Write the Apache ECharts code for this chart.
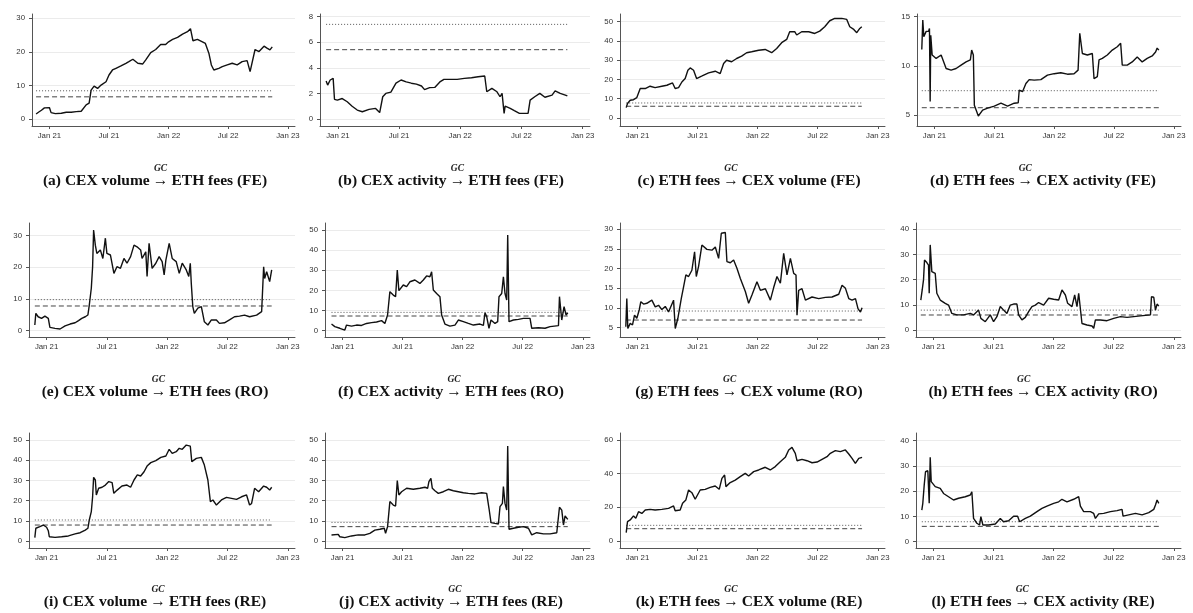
<!DOCTYPE html>
<html><head><meta charset="utf-8">
<script src="https://cdn.jsdelivr.net/npm/echarts@6/dist/echarts.min.js"></script>
<style>html,body{margin:0;padding:0;background:#fff}#c{width:1193px;height:613px}</style>
</head><body><div id="c"></div>
<script>
// x = months since 1 Jan 2021
const xTickValues = [0, 6, 12, 18, 24];
const xTickLabels = ['Jan 21', 'Jul 21', 'Jan 22', 'Jul 22', 'Jan 23'];

const volToFeesFE = [[-1.34,1.5],[-1.1,2.0],[-0.8,2.6],[-0.5,3.3],[-0.3,3.7],[0.0,3.4],[0.17,1.9],[0.6,1.6],[1.2,1.7],[1.7,2.0],[2.2,2.0],[2.7,2.2],[3.2,2.3],[3.3,1.9],[3.7,4.2],[4.0,4.7],[4.2,8.6],[4.5,9.8],[4.85,9.1],[5.2,10.1],[5.7,11.1],[6.0,13.1],[6.35,14.6],[6.7,15.1],[7.2,15.8],[7.7,16.6],[8.0,17.1],[8.4,17.8],[8.9,16.6],[9.4,16.4],[9.7,17.6],[10.2,19.8],[10.7,20.7],[11.2,22.2],[11.7,22.2],[12.0,23.0],[12.4,23.7],[12.9,24.3],[13.4,25.3],[13.9,26.0],[14.2,26.9],[14.45,23.3],[14.9,23.7],[15.4,23.0],[15.7,22.5],[16.05,19.6],[16.3,16.1],[16.55,14.6],[17.05,15.1],[17.4,15.6],[17.9,16.1],[18.4,16.6],[18.9,16.1],[19.4,17.1],[19.9,17.4],[20.2,14.1],[20.4,14.6],[20.7,20.7],[21.1,20.1],[21.6,21.7],[21.9,21.1],[22.2,20.6],[22.43,21.5]];
const actToFeesFE = [[-1.15,2.97],[-1.0,2.65],[-0.75,3.05],[-0.46,3.18],[-0.33,1.54],[-0.05,1.48],[0.43,1.6],[0.92,1.35],[1.4,1.0],[1.9,0.7],[2.4,0.57],[3.06,0.75],[3.7,0.83],[4.1,0.5],[4.4,1.74],[4.7,2.0],[5.2,2.1],[5.7,2.8],[6.2,3.05],[6.7,2.9],[7.2,2.8],[7.7,2.73],[8.2,2.58],[8.5,2.3],[9.0,2.45],[9.5,2.47],[10.0,2.9],[10.4,3.1],[11.1,3.1],[11.7,3.1],[12.4,3.18],[13.1,3.23],[13.75,3.3],[14.4,3.36],[14.6,2.13],[15.1,2.4],[15.6,2.13],[15.9,1.74],[16.1,2.0],[16.3,0.44],[16.4,1.0],[16.9,0.83],[17.3,0.65],[17.8,0.44],[18.65,0.44],[18.85,1.48],[19.3,1.74],[19.8,2.0],[20.3,1.7],[21.0,1.87],[21.3,2.2],[21.8,2.0],[22.3,1.87],[22.5,1.8]];
const feesToVolFE = [[-1.13,5.4],[-1.0,7.5],[-0.73,9.2],[-0.4,9.5],[-0.07,10.6],[0.27,15.3],[0.77,15.3],[1.26,16.5],[1.76,15.8],[2.43,16.5],[2.93,17.0],[3.5,18.2],[3.76,15.3],[4.1,15.8],[4.43,18.7],[4.76,20.5],[5.03,24.8],[5.26,26.0],[5.6,24.8],[5.9,20.5],[6.4,21.7],[7.1,23.4],[7.76,24.3],[8.26,23.1],[8.6,28.3],[8.9,30.0],[9.4,29.2],[9.9,30.9],[10.4,32.1],[10.9,33.9],[11.4,34.4],[12.1,35.2],[12.75,35.6],[13.4,33.9],[13.9,36.1],[14.4,39.1],[14.9,40.8],[15.2,44.8],[15.7,44.8],[15.9,43.1],[16.4,44.8],[17.1,44.8],[17.7,43.9],[18.2,45.1],[18.7,47.4],[19.2,50.5],[19.7,51.7],[20.4,51.7],[20.9,51.2],[21.2,47.4],[21.6,46.0],[21.9,44.3],[22.2,46.5],[22.4,47.4]];
const feesToActFE = [[-1.27,11.66],[-1.17,14.66],[-1.07,12.97],[-0.83,13.5],[-0.6,13.5],[-0.5,13.8],[-0.43,6.36],[-0.37,13.1],[-0.23,11.1],[0.17,10.75],[0.67,11.1],[1.17,9.73],[1.67,9.56],[2.17,9.73],[2.67,10.07],[3.17,10.4],[3.6,10.6],[3.73,11.6],[3.9,11.1],[4.0,6.0],[4.17,5.85],[4.4,4.9],[4.83,5.5],[5.33,5.7],[6.0,5.9],[6.67,6.2],[7.33,5.9],[8.0,6.2],[8.4,6.25],[8.5,7.54],[8.83,7.37],[9.17,8.2],[9.5,8.6],[10.0,8.54],[10.67,8.6],[11.33,9.05],[12.0,9.2],[12.67,9.3],[13.33,9.15],[14.0,9.2],[14.4,9.56],[14.57,13.3],[14.83,11.25],[15.33,11.1],[15.83,11.25],[16.0,8.7],[16.33,8.9],[16.5,10.6],[16.83,10.75],[17.33,11.1],[17.83,11.6],[18.33,11.94],[18.67,12.3],[18.83,10.07],[19.33,10.07],[19.83,10.4],[20.33,10.9],[20.83,10.4],[21.33,10.75],[21.83,11.0],[22.17,11.4],[22.33,11.8],[22.5,11.6]];
const volToFeesRO = [[-1.17,1.8],[-1.07,5.5],[-0.84,4.4],[-0.5,3.9],[-0.17,4.6],[0.17,3.9],[0.33,1.05],[0.84,0.74],[1.34,0.53],[1.84,1.5],[2.34,2.1],[2.84,2.5],[3.18,3.2],[3.5,3.9],[3.85,4.4],[4.11,4.95],[4.25,8.1],[4.45,13.4],[4.58,20.2],[4.68,31.8],[4.85,27],[5.0,24.4],[5.35,25.5],[5.6,22.8],[5.85,29.2],[6.0,24.4],[6.35,23.9],[6.7,18.1],[7.0,20.2],[7.35,19.7],[7.7,22.8],[8.0,21.3],[8.36,23.4],[8.7,27],[9.0,26.5],[9.36,25.5],[9.5,22.8],[9.87,24.9],[10.0,17.1],[10.2,27.6],[10.5,19.7],[10.87,21.3],[11.2,23.4],[11.5,21.8],[11.7,17.6],[11.87,22.3],[12.2,27.6],[12.5,22.8],[12.9,21.8],[13.2,18.1],[13.5,21.3],[13.9,19.2],[14.15,17.1],[14.3,21.3],[14.4,14.9],[14.55,7.6],[14.7,5.5],[15.05,7.1],[15.4,7.6],[15.7,2.8],[16.05,1.8],[16.4,3.4],[16.9,3.4],[17.2,2.3],[17.7,2.5],[18.2,3.4],[18.7,4.4],[19.2,4.6],[19.7,4.9],[20.2,4.4],[20.9,4.9],[21.4,6.0],[21.6,20.2],[21.7,16.5],[21.9,18.6],[22.2,15.5],[22.4,19.2]];
const actToFeesRO = [[-1.1,3.3],[-0.77,2.0],[-0.27,1.2],[0.23,0.3],[0.4,2.8],[0.9,2.3],[1.4,2.8],[1.9,2.6],[2.4,3.6],[2.9,4.0],[3.4,4.3],[3.9,5.0],[4.23,3.6],[4.5,7.8],[4.73,19.4],[5.07,17.7],[5.3,16.9],[5.47,30.1],[5.63,19.9],[6.07,22.7],[6.4,21.9],[6.73,24.3],[7.23,25.2],[7.73,23.5],[8.07,25.2],[8.4,27.2],[8.73,26.8],[8.9,29.3],[9.07,20.2],[9.4,18.5],[9.73,16.9],[9.9,7.8],[10.23,3.3],[10.73,2.3],[11.23,2.8],[11.57,5.3],[12.07,4.5],[12.57,3.6],[13.07,2.8],[13.73,3.3],[14.07,2.6],[14.23,8.9],[14.4,7.0],[14.63,1.2],[14.83,5.3],[15.23,3.6],[15.5,4.5],[15.63,16.9],[15.9,18.5],[16.07,26.8],[16.23,18.5],[16.4,15.2],[16.5,47.5],[16.63,4.5],[17.07,5.3],[17.57,5.6],[18.07,6.1],[18.73,6.1],[18.9,1.2],[19.57,1.5],[20.23,1.2],[20.73,2.0],[21.57,2.5],[21.67,16.9],[21.9,5.3],[22.13,11.9],[22.33,7.8],[22.5,8.9]];
const feesToVolRO = [[-1.17,5.25],[-1.07,12.4],[-0.97,4.8],[-0.73,6.1],[-0.5,5.7],[-0.3,8.2],[-0.07,7.4],[0.17,9.5],[0.33,11.6],[0.6,11.0],[0.93,11.2],[1.43,12.0],[1.77,10.3],[2.1,10.7],[2.43,9.6],[2.77,10.4],[3.1,9.0],[3.6,12.0],[3.77,4.8],[4.03,7.4],[4.37,12.4],[4.6,15.4],[4.83,18.4],[5.1,18.0],[5.43,19.6],[5.7,24.3],[5.87,18.0],[6.1,20.6],[6.43,26.0],[6.93,24.9],[7.43,24.7],[7.77,25.5],[8.1,22.6],[8.37,29.0],[8.77,29.2],[8.93,21.8],[9.27,21.5],[9.6,22.2],[9.93,20.1],[10.27,17.5],[10.77,14.2],[11.1,11.2],[11.43,13.3],[11.93,16.7],[12.27,14.5],[12.77,14.9],[13.27,12.0],[13.6,15.2],[13.93,18.0],[14.27,16.3],[14.6,23.9],[14.93,18.4],[15.27,22.6],[15.6,18.8],[15.83,18.4],[15.93,8.2],[16.1,14.5],[16.43,14.9],[16.77,12.0],[17.43,12.8],[18.1,12.4],[18.77,12.7],[19.43,12.8],[20.1,13.5],[20.43,15.8],[20.77,15.0],[21.1,12.4],[21.43,12.0],[21.77,12.4],[22.03,9.8],[22.27,9.0],[22.43,10.1]];
const feesToActRO = [[-1.27,11.9],[-1.13,15.9],[-1.0,19.9],[-0.9,27.8],[-0.67,26.8],[-0.5,25.8],[-0.43,14.6],[-0.33,33.8],[-0.17,23.2],[0.17,22.5],[0.33,14.6],[0.67,11.9],[1.17,10.6],[1.5,9.9],[1.83,6.6],[2.33,6.0],[3.0,6.0],[3.67,6.6],[4.0,6.0],[4.5,7.9],[4.73,4.6],[5.17,3.3],[5.67,6.0],[6.0,3.3],[6.33,5.3],[6.67,9.3],[7.0,7.9],[7.33,6.6],[7.67,9.9],[8.0,10.3],[8.33,10.3],[8.5,6.0],[8.83,4.0],[9.17,5.0],[9.5,7.3],[9.83,9.3],[10.17,9.9],[10.5,10.9],[11.0,9.9],[11.5,12.6],[12.0,12.2],[12.5,11.9],[12.83,15.9],[13.17,13.9],[13.4,10.6],[13.83,9.3],[14.1,13.9],[14.33,9.3],[14.5,14.6],[14.83,2.6],[15.33,2.0],[15.83,1.6],[16.0,0.7],[16.17,4.0],[16.67,4.0],[17.33,3.7],[18.0,4.6],[18.67,5.3],[19.33,5.0],[20.0,5.3],[20.67,5.6],[21.67,6.0],[21.77,13.2],[22.0,13.0],[22.17,7.9],[22.33,10.3],[22.5,9.5]];
const volToFeesRE = [[-1.17,1.65],[-1.07,6.3],[-0.67,7.1],[-0.33,7.9],[0.0,6.8],[0.17,5.1],[0.27,2.1],[0.84,1.8],[1.5,2.1],[2.17,2.5],[2.84,3.5],[3.34,4.1],[3.85,5.4],[4.11,6.3],[4.25,10.4],[4.45,14.5],[4.58,21.9],[4.68,31.5],[4.85,30.2],[4.95,22.8],[5.18,26.1],[5.52,26.6],[5.85,27.7],[6.19,29.4],[6.52,28.9],[6.69,23.6],[7.02,25.2],[7.5,27.2],[8.0,27.7],[8.36,26.6],[8.7,30.2],[9.03,32.7],[9.36,32.2],[9.7,34.3],[10.0,37.1],[10.37,38.8],[10.87,39.8],[11.37,41.4],[11.87,42.1],[12.2,45.4],[12.5,43.4],[12.9,44.2],[13.2,45.9],[13.5,45.4],[13.9,47.5],[14.3,47.0],[14.45,39.3],[14.9,40.9],[15.4,41.4],[15.7,37.6],[16.05,30.2],[16.3,19.5],[16.55,20.3],[16.9,17.8],[17.4,20.3],[17.9,21.6],[18.4,21.1],[18.9,20.6],[19.4,21.9],[19.9,22.8],[20.2,17.8],[20.4,18.6],[20.7,26.1],[21.1,24.4],[21.6,27.2],[21.9,26.6],[22.2,25.2],[22.4,26.6]];
const actToFeesRE = [[-1.1,3.0],[-0.43,3.3],[-0.27,2.1],[0.23,1.65],[0.9,2.5],[1.57,3.0],[2.23,3.0],[2.73,3.8],[3.23,5.4],[3.73,5.8],[4.17,6.3],[4.3,3.8],[4.5,7.1],[4.73,19.5],[5.07,17.8],[5.3,17.3],[5.47,29.9],[5.63,22.8],[5.9,24.4],[6.4,26.1],[7.07,25.6],[7.73,26.1],[8.23,26.6],[8.5,26.1],[8.63,29.4],[8.83,31.0],[8.97,26.1],[9.23,24.9],[9.57,23.6],[10.07,24.4],[10.57,25.6],[11.07,24.9],[11.57,24.4],[12.07,23.9],[12.57,23.6],[13.23,23.3],[13.9,23.9],[14.4,23.6],[14.63,16.2],[14.83,9.1],[15.23,8.7],[15.57,8.4],[15.73,17.0],[15.97,18.6],[16.07,26.9],[16.23,18.6],[16.4,15.3],[16.5,47.0],[16.63,5.8],[17.07,6.3],[17.57,6.8],[18.07,7.1],[18.57,6.3],[18.9,3.0],[19.4,4.1],[20.07,3.5],[20.73,3.5],[21.4,4.1],[21.57,4.1],[21.67,16.7],[21.9,15.3],[22.07,7.9],[22.23,12.4],[22.5,10.7]];
const feesToVolRE = [[-1.13,5.0],[-1.0,11.5],[-0.73,12.5],[-0.4,14.9],[-0.17,13.5],[0.1,17.4],[0.43,16.4],[0.77,18.4],[1.26,18.8],[1.76,18.4],[2.43,18.8],[3.1,19.4],[3.6,20.8],[3.76,18.0],[4.26,18.4],[4.5,22.4],[4.83,24.4],[5.1,30.3],[5.43,28.7],[5.76,24.8],[5.93,24.4],[6.26,30.3],[6.76,30.7],[7.26,31.9],[7.76,32.7],[8.16,30.7],[8.43,37.2],[8.7,39.2],[8.83,32.3],[9.26,34.7],[9.76,36.2],[10.26,38.2],[10.76,40.2],[11.1,38.6],[11.6,41.2],[12.1,42.2],[12.76,43.8],[13.26,42.2],[13.76,44.2],[14.26,47.1],[14.76,49.7],[15.1,54.1],[15.43,55.6],[15.76,52.1],[15.93,47.7],[16.43,48.5],[16.93,47.7],[17.43,46.5],[17.93,46.9],[18.43,48.5],[18.93,50.1],[19.26,52.1],[19.76,53.7],[20.26,53.1],[20.76,54.1],[21.1,51.7],[21.43,49.1],[21.76,46.1],[22.1,49.1],[22.43,49.7]];
const feesToActRE = [[-1.17,12.5],[-1.07,15.2],[-0.93,22.4],[-0.8,27.7],[-0.57,28.1],[-0.43,15.2],[-0.33,33.4],[-0.23,23.8],[0.17,21.8],[0.67,21.1],[1.0,19.1],[1.5,17.8],[2.0,16.5],[2.5,17.2],[3.17,17.8],[3.67,18.5],[3.83,19.8],[4.0,9.2],[4.33,7.3],[4.6,6.6],[4.73,9.9],[4.93,6.6],[5.5,6.6],[6.17,7.0],[6.67,9.2],[7.0,7.9],[7.5,8.3],[8.0,10.1],[8.4,10.1],[8.6,7.9],[9.17,9.2],[9.67,10.1],[10.33,11.9],[10.83,13.2],[11.33,14.1],[12.0,15.2],[12.5,15.8],[12.83,16.8],[13.33,15.8],[14.0,16.8],[14.5,17.8],[14.67,14.1],[15.0,11.9],[15.67,11.9],[16.0,11.2],[16.17,9.2],[16.5,11.0],[17.0,11.2],[17.67,11.9],[18.33,12.3],[18.83,12.8],[18.93,10.1],[19.5,10.6],[20.17,11.2],[20.83,10.6],[21.5,11.5],[22.0,12.8],[22.17,14.5],[22.33,16.5],[22.5,15.2]];

const panelSeries = [volToFeesFE, actToFeesFE, feesToVolFE, feesToActFE, volToFeesRO, actToFeesRO, feesToVolRO, feesToActRO, volToFeesRE, actToFeesRE, feesToVolRE, feesToActRE];
const panelLetters = ['a','b','c','d','e','f','g','h','i','j','k','l'];
const causeNames = ['CEX volume','CEX activity','ETH fees','ETH fees'];
const effectNames = ['ETH fees','ETH fees','CEX volume','CEX activity'];
const estimators = ['FE','RO','RE'];
const critDotted = [8.4, 7.4, 7.8, 7.47, 9.8, 9.1, 9.24, 7.9, 10.4, 9.2, 9.3, 7.9];
const critDashed = [6.6, 5.42, 6.1, 5.74, 7.8, 7.3, 6.95, 5.96, 7.9, 7.1, 7.3, 6.07];
const yTickSets = [[0,10,20,30],[0,2,4,6,8],[0,10,20,30,40,50],[5,10,15],[0,10,20,30],[0,10,20,30,40,50],[5,10,15,20,25,30],[0,10,20,30,40],[0,10,20,30,40,50],[0,10,20,30,40,50],[0,20,40,60],[0,10,20,30,40]];

// layout (axis ranges and grid placement)
const yRanges = [[-2.09,31.28],[-0.547,8.21],[-4.15,54.0],[3.88,15.27],[-1.99,34.0],[-3.13,53.5],[2.64,31.6],[-2.78,42.5],[-3.47,53.47],[-3.47,53.47],[-4.16,64.16],[-2.5,43.05]];
const gridBoxes = [
  [32,14,263,112],[320,14,270,112],[620,14,265,112],[917,14,264,112],
  [29,223,266,114],[325,223,265,114],[620,223,265,114],[916,223,265,114],
  [29,433,266,115],[325,433,265,115],[620,433,265,115],[916,433,265,115]
];
const titleX = [155, 451, 749, 1043];
const titleY = [180.5, 391.5, 601.5];

const AX = '#555', LBL = '#333';
const sansFont = 'Liberation Sans, Arial, sans-serif';
const serifFont = 'Liberation Serif, Times New Roman, serif';

const grid = [], xAxis = [], yAxis = [], series = [], graphic = [];
panelSeries.forEach((data, i) => {
  const g = gridBoxes[i];
  grid.push({left: g[0], top: g[1], width: g[2], height: g[3], containLabel: false});
  xAxis.push({
    gridIndex: i, type: 'value', min: -1.75, max: 24.72,
    axisLine: {show: true, onZero: false, lineStyle: {color: AX, width: 1}},
    axisTick: {show: true, length: 3, customValues: xTickValues, lineStyle: {color: AX, width: 1}},
    axisLabel: {customValues: xTickValues, formatter: v => xTickLabels[xTickValues.indexOf(v)],
      fontSize: 7.8, color: LBL, margin: 6, fontFamily: sansFont},
    splitLine: {show: false}
  });
  const yt = yTickSets[i];
  yAxis.push({
    gridIndex: i, type: 'value', min: yRanges[i][0], max: yRanges[i][1],
    axisLine: {show: true, onZero: false, lineStyle: {color: AX, width: 1}},
    axisTick: {show: true, length: 3, customValues: yt, lineStyle: {color: AX, width: 1}},
    axisLabel: {customValues: yt, fontSize: 7.8, color: LBL, margin: 7, fontFamily: sansFont},
    splitLine: {show: true, lineStyle: {color: '#ebebeb', width: 1.2}}
  });
  const x0 = data[0][0], x1 = data[data.length - 1][0];
  series.push({type: 'line', xAxisIndex: i, yAxisIndex: i, data: [[x0, critDotted[i]], [x1, critDotted[i]]],
    symbol: 'none', silent: true, lineStyle: {color: '#555', width: 1, type: [1, 2]}});
  series.push({type: 'line', xAxisIndex: i, yAxisIndex: i, data: [[x0, critDashed[i]], [x1, critDashed[i]]],
    symbol: 'none', silent: true, lineStyle: {color: '#444', width: 1, type: [5, 3]}});
  series.push({type: 'line', xAxisIndex: i, yAxisIndex: i, data: data,
    symbol: 'none', showSymbol: false, lineStyle: {color: '#111', width: 1.4}});

  const col = i % 4, row = Math.floor(i / 4);
  const before = '(' + panelLetters[i] + ') ' + causeNames[col] + ' ';
  const after = ' ' + effectNames[col] + ' (' + estimators[row] + ')';
  const main = {fontFamily: serifFont, fontWeight: 'bold', fontSize: 15.5, fill: '#111'};
  graphic.push({type: 'text', x: titleX[col], y: titleY[row], silent: true, style: {
    text: '{t|' + before + '}{a|→}{t|' + after + '}', align: 'center', verticalAlign: 'middle',
    rich: {t: main, a: Object.assign({}, main, {width: 14, align: 'center'})}
  }});
  graphic.push({type: 'text', x: titleX[col], y: titleY[row] - 12, silent: true, style: {
    text: '{h|' + before + '}{g|GC}{h|' + after + '}', align: 'center', verticalAlign: 'middle',
    rich: {h: Object.assign({}, main, {fill: 'rgba(0,0,0,0)'}),
           g: {fontFamily: serifFont, fontStyle: 'italic', fontWeight: 'bold', fontSize: 9.5, fill: '#222', width: 14, align: 'center'}}
  }});
});

const chart = echarts.init(document.getElementById('c'), null, {renderer: 'canvas'});
chart.setOption({animation: false, backgroundColor: '#fff', grid, xAxis, yAxis, series, graphic});
</script></body></html>
